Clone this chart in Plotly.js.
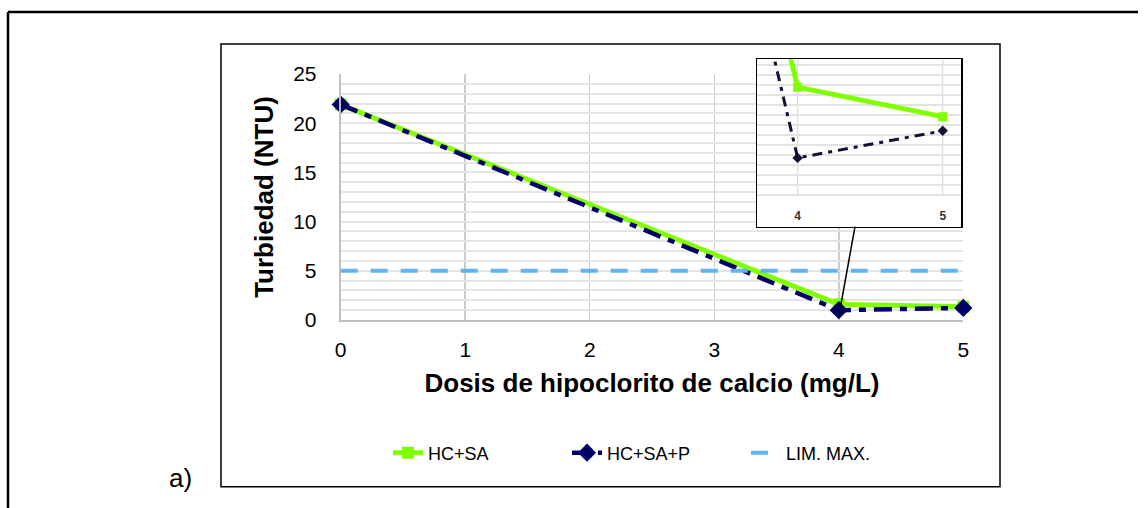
<!DOCTYPE html>
<html>
<head>
<meta charset="utf-8">
<script src="https://cdn.plot.ly/plotly-3.0.1.min.js"></script>
<style>html,body{margin:0;padding:0;background:#fff;overflow:hidden;}#chart{width:1146px;height:508px;}</style>
</head>
<body>
<div id="chart"></div>
<script>
// ---- data ----
const doses = [0, 4, 5];                 // Dosis de hipoclorito de calcio (mg/L)
const hcsa = [21.9, 1.6, 1.35];          // HC+SA
const hcsap = [21.9, 1.0, 1.23];         // HC+SA+P
const limMax = [5, 5, 5];                // LIM. MAX.
const seriesNames = ['HC+SA', 'HC+SA+P', 'LIM. MAX.'];
const xTickVals = [0, 1, 2, 3, 4, 5];
const yTickVals = [0, 5, 10, 15, 20, 25];
const insetTickVals = [4, 5];
const insetTickText = ['4', '5'];

// ---- styling ----
const W = 1146, H = 508;
const px = v => v / W;
const py = v => (H - v) / H;
const FONT = 'Liberation Sans, Arial, sans-serif';
const GREEN = '#80ff00', NAVY = '#000066', LBLUE = '#5fb4f4';

// minor horizontal grid every 1 NTU, labels only on the major ticks
const yGridVals = [], yGridText = [];
for (let v = yTickVals[0]; v <= yTickVals[yTickVals.length - 1]; v += 1) {
  yGridVals.push(v);
  yGridText.push(yTickVals.includes(v) ? String(v) : '');
}

const insetYRange = [0.417, 1.836];
const insetAxisY = 0.686;
const insetGrid = [];
for (let v = insetAxisY; v < insetYRange[1]; v += 0.0847) insetGrid.push(+v.toFixed(4));

const traces = [
  {x: doses, y: hcsa, name: seriesNames[0], type: 'scatter', mode: 'lines+markers',
   line: {color: GREEN, width: 5}, marker: {symbol: 'square', size: 12, color: GREEN},
   cliponaxis: false, xaxis: 'x', yaxis: 'y'},
  {x: doses, y: hcsap, name: seriesNames[1], type: 'scatter', mode: 'lines+markers',
   line: {color: NAVY, width: 4.5, dash: '18px,8px,7px,8px'}, marker: {symbol: 'diamond', size: 14, color: NAVY},
   cliponaxis: false, xaxis: 'x', yaxis: 'y'},
  {x: doses, y: limMax, name: seriesNames[2], type: 'scatter', mode: 'lines',
   line: {color: LBLUE, width: 4, dash: '17px,13px'},
   cliponaxis: false, xaxis: 'x', yaxis: 'y'},
  // inset (zoom of doses 4-5)
  {x: doses, y: hcsa, name: seriesNames[0], type: 'scatter', mode: 'lines+markers', showlegend: false,
   line: {color: GREEN, width: 5}, marker: {symbol: 'square', size: 9, color: GREEN},
   xaxis: 'x2', yaxis: 'y2'},
  {x: doses, y: hcsap, name: seriesNames[1], type: 'scatter', mode: 'lines+markers', showlegend: false,
   line: {color: '#111133', width: 3, dash: '10px,6px,4px,6px'}, marker: {symbol: 'diamond', size: 8, color: '#111133'},
   xaxis: 'x2', yaxis: 'y2'}
];

const layout = {
  width: W, height: H,
  margin: {l: 0, r: 0, t: 0, b: 0, pad: 0},
  paper_bgcolor: '#ffffff', plot_bgcolor: '#ffffff',
  font: {family: FONT, color: '#000000', size: 20},
  showlegend: true,
  legend: {orientation: 'h', x: px(388), xanchor: 'left', y: py(453), yanchor: 'middle',
           entrywidth: 134, entrywidthmode: 'pixels',
           font: {family: FONT, size: 18, color: '#000'}, bgcolor: 'rgba(0,0,0,0)', traceorder: 'normal'},
  xaxis: {domain: [px(340.7), px(963.3)], range: [0, 5], tickmode: 'array', tickvals: xTickVals, ticks: '',
          showgrid: true, gridcolor: '#cccccc', gridwidth: 1.5,
          showline: true, linecolor: '#bfbfbf', linewidth: 2, zeroline: false,
          tickfont: {family: FONT, size: 21, color: '#000'}, ticklabelstandoff: 10,
          title: {text: 'Dosis de hipoclorito de calcio (mg/L)', font: {family: FONT, size: 26, color: '#000', weight: 'bold'}, standoff: 14},
          fixedrange: true},
  yaxis: {domain: [py(320), py(74)], range: [0, 25], tickmode: 'array', tickvals: yGridVals, ticktext: yGridText, ticks: '',
          showgrid: true, gridcolor: '#e4e4e4', gridwidth: 2,
          showline: true, linecolor: '#bfbfbf', linewidth: 2, zeroline: false,
          tickfont: {family: FONT, size: 21, color: '#000'}, ticklabelstandoff: 18,
          title: {text: 'Turbiedad (NTU)', font: {family: FONT, size: 26, color: '#000', weight: 'bold'}, standoff: 12},
          fixedrange: true},
  yaxis3: {overlaying: 'y', anchor: 'x', side: 'left', range: [0, 25], tickmode: 'array', tickvals: yTickVals,
           showticklabels: false, ticks: '', showgrid: true, gridcolor: '#cacaca', gridwidth: 2,
           showline: false, zeroline: false, fixedrange: true},
  xaxis2: {domain: [px(757), px(961)], range: [3.72, 5.126], anchor: 'y2',
           tickvals: insetTickVals, ticktext: insetTickText, ticks: '', ticklabelposition: 'inside',
           tickfont: {family: FONT, size: 12, color: '#333', weight: 'bold'}, ticklabelstandoff: 4,
           showgrid: false, zeroline: false, showline: true, mirror: true, linecolor: '#000', linewidth: 1.5, fixedrange: true},
  yaxis2: {domain: [py(226.7), py(59.3)], range: insetYRange, anchor: 'x2',
           tickvals: insetGrid, showticklabels: false, ticks: '',
           showgrid: true, gridcolor: '#e2e2e2', gridwidth: 1.5,
           zeroline: false, showline: true, mirror: true, linecolor: '#000', linewidth: 1.5, fixedrange: true},
  shapes: [
    // outer frame (top and left edges)
    {type: 'line', xref: 'paper', yref: 'paper', x0: px(8), x1: px(8), y0: 0, y1: py(12),
     line: {color: '#000', width: 2.5}, layer: 'above'},
    {type: 'line', xref: 'paper', yref: 'paper', x0: px(8), x1: px(1138), y0: py(12), y1: py(12),
     line: {color: '#000', width: 2.5}, layer: 'above'},
    // chart frame
    {type: 'rect', xref: 'paper', yref: 'paper', x0: px(221), x1: px(1000), y0: py(486.7), y1: py(44),
     line: {color: '#000', width: 1.5}, fillcolor: 'rgba(0,0,0,0)', layer: 'above'},
    // inset axis line and vertical gridlines
    {type: 'line', xref: 'x2 domain', yref: 'y2', x0: 0, x1: 1, y0: insetAxisY, y1: insetAxisY,
     line: {color: '#cfcfcf', width: 1.5}, layer: 'below'},
    {type: 'line', xref: 'x2', yref: 'y2', x0: insetTickVals[0], x1: insetTickVals[0], y0: insetAxisY, y1: insetYRange[1],
     line: {color: '#d8d8d8', width: 1.2}, layer: 'below'},
    {type: 'line', xref: 'x2', yref: 'y2', x0: insetTickVals[1], x1: insetTickVals[1], y0: insetAxisY, y1: insetYRange[1],
     line: {color: '#d8d8d8', width: 1.2}, layer: 'below'},
    // connector from inset to point at dose 4
    {type: 'line', xref: 'paper', yref: 'paper', x0: px(839), y0: py(315), x1: px(855), y1: py(226.7),
     line: {color: '#000', width: 1.5}, layer: 'above'}
  ],
  annotations: [
    {text: 'a)', xref: 'paper', yref: 'paper', x: px(180), y: py(478), xanchor: 'center', yanchor: 'middle',
     showarrow: false, font: {family: FONT, size: 26, color: '#000'}}
  ]
};

Plotly.newPlot('chart', traces, layout, {displayModeBar: false, staticPlot: true});
</script>
</body>
</html>
